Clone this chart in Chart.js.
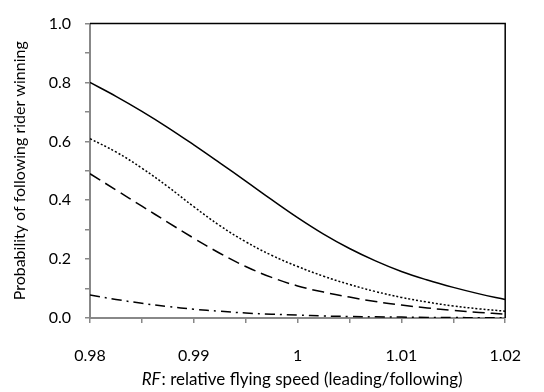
<!DOCTYPE html>
<html>
<head>
<meta charset="utf-8">
<script src="https://cdn.jsdelivr.net/npm/chart.js@4/dist/chart.umd.min.js"></script>
<style>
  html, body { margin: 0; padding: 0; background: #fff; }
  #wrap { width: 544px; height: 392px; }
</style>
</head>
<body>
<div id="wrap"><canvas id="c" width="544" height="392"></canvas></div>
<script>
// Relative flying speed RF (x values)
const rfValues = [0.98, 0.9825, 0.985, 0.9875, 0.99, 0.9925, 0.995, 0.9975, 1.0,
                  1.0025, 1.005, 1.0075, 1.01, 1.0125, 1.015, 1.0175, 1.02];
// Probability of following rider winning, one array per curve
const solidSeries   = [0.800, 0.753, 0.702, 0.647, 0.588, 0.527, 0.465, 0.402, 0.341,
                       0.285, 0.236, 0.194, 0.158, 0.129, 0.104, 0.082, 0.063];
const dottedSeries  = [0.609, 0.564, 0.509, 0.446, 0.378, 0.314, 0.259, 0.213, 0.175,
                       0.142, 0.114, 0.090, 0.070, 0.054, 0.041, 0.031, 0.023];
const dashedSeries  = [0.490, 0.435, 0.380, 0.325, 0.271, 0.220, 0.175, 0.138, 0.109,
                       0.088, 0.071, 0.056, 0.044, 0.034, 0.026, 0.019, 0.013];
const dashDotSeries = [0.078, 0.063, 0.050, 0.039, 0.030, 0.023, 0.017, 0.013, 0.010,
                       0.007, 0.005, 0.004, 0.003, 0.002, 0.0015, 0.001, 0.001];

const xTitleItalic = "RF";
const xTitleRest = ": relative flying speed (leading/following)";
const yTitle = "Probability of following rider winning";

const FONT = "Lato, 'Open Sans', 'Liberation Sans', sans-serif";

function pts(arr) { return rfValues.map((x, i) => ({ x: x, y: arr[i] })); }

function ds(label, arr, dash) {
  return {
    label: label,
    data: pts(arr),
    borderColor: '#000',
    backgroundColor: '#000',
    borderWidth: 1.5,
    borderDash: dash,
    pointRadius: 0,
    fill: false,
    tension: 0.4
  };
}

const framePlugin = {
  id: 'frame',
  afterDatasetsDraw(chart) {
    const a = chart.chartArea, ctx = chart.ctx;
    ctx.save();
    ctx.strokeStyle = '#000';
    ctx.lineWidth = 1.5;
    ctx.beginPath();
    ctx.moveTo(a.left, a.top);
    ctx.lineTo(a.right, a.top);
    ctx.lineTo(a.right, a.bottom);
    ctx.stroke();
    ctx.restore();
  },
  afterDraw(chart) {
    const a = chart.chartArea, ctx = chart.ctx;
    ctx.save();
    ctx.fillStyle = '#000';
    ctx.textBaseline = 'middle';
    ctx.textAlign = 'left';
    const fItal = "italic 17px " + FONT;
    const fNorm = "17px " + FONT;
    ctx.font = fItal;
    const w1 = ctx.measureText(xTitleItalic).width;
    ctx.font = fNorm;
    const w2 = ctx.measureText(xTitleRest).width;
    let x0 = (a.left + a.right) / 2 + 4 - (w1 + w2) / 2;
    const y0 = 380;
    ctx.font = fItal;
    ctx.fillText(xTitleItalic, x0, y0);
    ctx.font = fNorm;
    ctx.fillText(xTitleRest, x0 + w1 + 1, y0);
    ctx.restore();
  }
};

new Chart(document.getElementById('c'), {
  type: 'line',
  data: {
    datasets: [
      ds('solid', solidSeries, []),
      ds('dotted', dottedSeries, [2, 2]),
      ds('dashed', dashedSeries, [12, 6]),
      ds('dash-dot', dashDotSeries, [10, 5, 2, 5])
    ]
  },
  options: {
    responsive: false,
    animation: false,
    layout: { padding: { top: 16, right: 20, left: 0, bottom: 0 } },
    plugins: {
      legend: { display: false },
      tooltip: { enabled: false }
    },
    scales: {
      x: {
        type: 'linear',
        min: 0.98,
        max: 1.02,
        afterFit(s) { s.height = 74; },
        ticks: {
          stepSize: 0.005,
          autoSkip: false,
          maxRotation: 0,
          padding: 23,
          color: '#000',
          font: { family: FONT, size: 16 },
          callback(v) {
            const k = Math.round(v * 1000);
            if (k % 10 !== 0) return '';
            return String(Math.round(v * 100) / 100);
          }
        },
        grid: {
          drawOnChartArea: false,
          drawTicks: true,
          tickLength: 5,
          color: '#888',
          lineWidth: 1.5
        },
        border: { display: true, color: '#888', width: 2 }
      },
      y: {
        min: 0,
        max: 1,
        afterFit(s) { s.width = 90; },
        ticks: {
          stepSize: 0.1,
          autoSkip: false,
          padding: 14,
          color: '#000',
          font: { family: FONT, size: 16 },
          callback(v) {
            const k = Math.round(v * 10);
            if (k % 2 !== 0) return '';
            return (k / 10).toFixed(1);
          }
        },
        grid: {
          drawOnChartArea: false,
          drawTicks: true,
          tickLength: 5,
          color: '#888',
          lineWidth: 1.5
        },
        border: { display: true, color: '#888', width: 2 },
        title: {
          display: true,
          text: yTitle,
          color: '#000',
          font: { family: FONT, size: 16 },
          padding: { top: 10, bottom: 0 }
        }
      }
    }
  },
  plugins: [framePlugin]
});
</script>
</body>
</html>
